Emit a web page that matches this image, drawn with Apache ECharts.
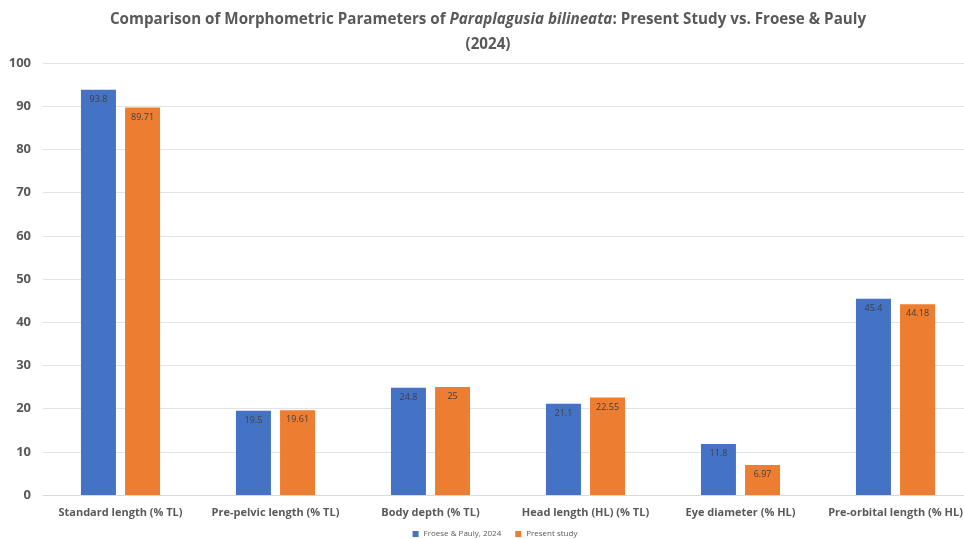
<!DOCTYPE html>
<html><head><meta charset="utf-8">
<script src="https://cdn.jsdelivr.net/npm/echarts@6/dist/echarts.min.js"></script>
<style>html,body{margin:0;padding:0;background:#fff;overflow:hidden}#c{width:990px;height:539px}</style>
</head><body><div id="c"></div>
<script>
const categories = ["Standard length (% TL)","Pre-pelvic length (% TL)","Body depth (% TL)","Head length (HL) (% TL)","Eye diameter (% HL)","Pre-orbital length (% HL)"];
const froesePauly = [93.8, 19.5, 24.8, 21.1, 11.8, 45.4];
const presentStudy = [89.71, 19.61, 25, 22.55, 6.97, 44.18];
const seriesNames = ["Froese & Pauly, 2024", "Present study"];
const yTicks = [0,10,20,30,40,50,60,70,80,90,100];

const font = "'Open Sans',sans-serif";
const chart = echarts.init(document.getElementById('c'));
const lbl = {show:true, position:'insideTop', distance:5, fontSize:9, color:'#404040', fontFamily:font};
chart.setOption({
  animation:false,
  title:{
    text:'{n|Comparison of Morphometric Parameters of }{i|Paraplagusia bilineata}{n|: Present Study vs. Froese & Pauly}\n{n|(2024)}',
    left:483, top:2, textAlign:'center',
    textStyle:{rich:{
      n:{fontSize:15.2,fontWeight:'bold',color:'#595959',fontFamily:font,lineHeight:25,align:'center'},
      i:{fontSize:15.2,fontWeight:'bold',fontStyle:'italic',color:'#595959',fontFamily:font,lineHeight:25}
    }}
  },
  legend:{bottom:-4, left:'center', itemWidth:6, itemHeight:6, itemGap:14, icon:'rect',
    textStyle:{fontSize:8,color:'#595959',fontFamily:font}},
  grid:{left:43, top:63, width:930, height:432},
  xAxis:{type:'category', data:categories,
    axisLine:{lineStyle:{color:'#d9d9d9'}}, axisTick:{show:false},
    axisLabel:{fontSize:11, fontWeight:'bold', color:'#595959', margin:12, fontFamily:font, interval:0}},
  yAxis:{type:'value', min:yTicks[0], max:yTicks[yTicks.length-1], interval:10,
    axisLine:{show:false}, axisTick:{show:false},
    splitLine:{lineStyle:{color:'#e3e3e3'}},
    axisLabel:{fontSize:13, fontWeight:'bold', color:'#595959', margin:12, fontFamily:font}},
  series:[
    {name:seriesNames[0], type:'bar', data:froesePauly, barWidth:35, barGap:'26%', itemStyle:{color:'#4472C4'}, label:lbl},
    {name:seriesNames[1], type:'bar', data:presentStudy, barWidth:35, itemStyle:{color:'#ED7D31'}, label:lbl}
  ]
});
</script></body></html>
